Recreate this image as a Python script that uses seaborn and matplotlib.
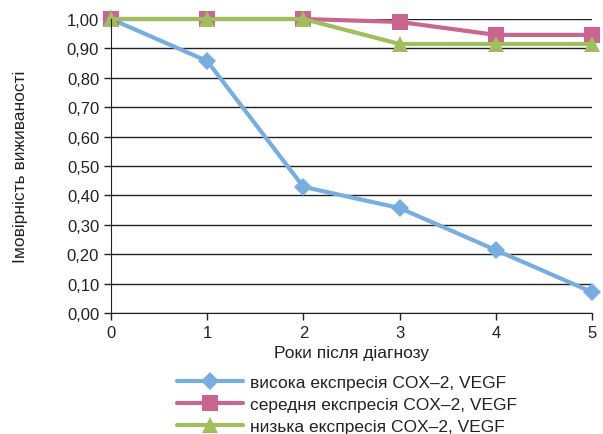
import matplotlib
matplotlib.use("Agg")
import matplotlib.pyplot as plt
import seaborn as sns
import pandas as pd
from matplotlib.ticker import FuncFormatter, MultipleLocator
from matplotlib.lines import Line2D

years = [0, 1, 2, 3, 4, 5]
high = [1.00, 0.857, 0.429, 0.357, 0.214, 0.071]
medium = [1.00, 1.00, 1.00, 0.99, 0.946, 0.946]
low = [1.00, 1.00, 1.00, 0.915, 0.915, 0.915]
series_names = ["висока експресія COX–2, VEGF",
                "середня експресія COX–2, VEGF",
                "низька експресія COX–2, VEGF"]
colors = ["#78ADE0", "#C9658F", "#9FBE5C"]
markers = ["D", "s", "^"]

rows = []
for name, vals in zip(series_names, [high, medium, low]):
    for x, v in zip(years, vals):
        rows.append({"year": x, "p": v, "series": name})
df = pd.DataFrame(rows)

sns.set_style("white")
plt.rcParams["font.family"] = ["Liberation Sans", "DejaVu Sans"]

fig = plt.figure(figsize=(6.03, 4.35), dpi=100)
ax = fig.add_axes([111/603, 1-314/435, (592-111)/603, (314-20)/435])

sns.lineplot(data=df, x="year", y="p", hue="series", style="series",
             palette=colors, markers=markers, dashes=False, linewidth=3,
             markersize=11, markeredgewidth=0, ax=ax, legend=False)
sizes = {"s": 12, "D": 9, "^": 12}
for ln in ax.lines:
    ln.set_clip_on(False)
    m = ln.get_marker()
    if m in sizes:
        ln.set_markersize(sizes[m])

ax.set_xlim(0, 5)
ax.set_ylim(0, 1.0)
ax.yaxis.set_major_locator(MultipleLocator(0.1))
ax.xaxis.set_major_locator(MultipleLocator(1))
ax.yaxis.set_major_formatter(FuncFormatter(lambda v, p: f"{v:.2f}".replace(".", ",")))
ax.grid(axis="y", color="#222222", linewidth=1)
ax.set_axisbelow(True)
for s in ["top", "right"]:
    ax.spines[s].set_visible(False)
ax.spines["left"].set_color("#222222")
ax.spines["bottom"].set_color("#222222")
ax.tick_params(axis="both", direction="out", length=5, width=1, colors="#222222",
               labelsize=12, labelcolor="#222222", left=True, bottom=True)
ax.set_xlabel("Роки після діагнозу", fontsize=12.5, color="#222222", labelpad=4)
ax.set_ylabel("Імовірність виживаності", fontsize=12.5, color="#222222", labelpad=28)

handles = [Line2D([], [], color=c, marker=m, linewidth=3, markersize=sizes[m], markeredgewidth=0)
           for c, m in zip(colors, markers)]
fig.legend(handles, series_names, loc="upper left", bbox_to_anchor=(170/603, 1-369/435),
           frameon=False, fontsize=12.5, handlelength=3.8, labelspacing=0.38,
           handletextpad=0.4, borderaxespad=0, labelcolor="#222222")

fig.savefig("out.png", dpi=100)
